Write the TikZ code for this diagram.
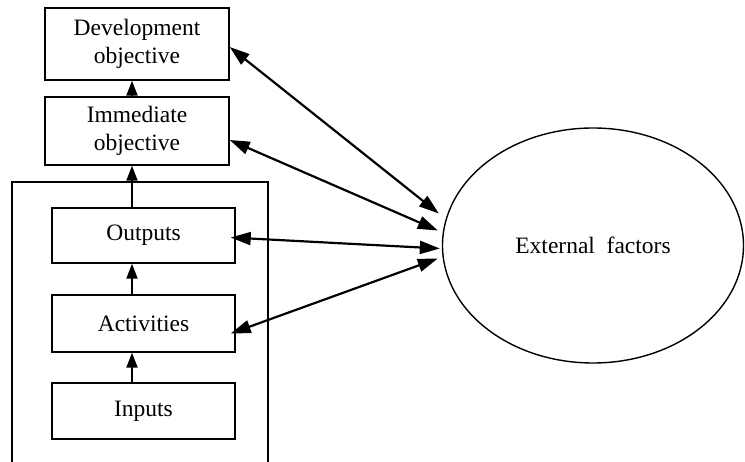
\documentclass[tikz,border=0pt]{standalone}
\usepackage{fontspec}
\setmainfont{Liberation Serif}
\usetikzlibrary{arrows.meta,shapes.geometric}

\begin{document}
\begin{tikzpicture}[x=1pt,y=-1pt,
		box/.style={draw,line width=1.4pt,minimum width=184pt,align=center,font=\fontsize{23.5}{28}\selectfont},
		arr/.style={line width=2pt,-{Triangle[length=15pt,width=11pt]}},
		both/.style={line width=2.2pt,{Triangle[length=20pt,width=13pt]}-{Triangle[length=20pt,width=13pt]}}]
		\useasboundingbox (0,0) rectangle (745,462);
		\node[box,minimum height=72pt] (dev) at (137,44) {Development\\objective};
		\node[box,minimum height=68pt] (imm) at (137,131) {Immediate\\objective};
		\draw[line width=1.4pt] (12,462) |- (268,182) -- (268,462);
		\node[box,minimum width=183pt,minimum height=55pt] (out) at (143.5,235.5) {Outputs};
		\node[box,minimum width=183pt,minimum height=57pt] (act) at (143.5,323.5) {Activities};
		\node[box,minimum width=183pt,minimum height=56pt] (inp) at (143.5,411) {Inputs};
		\node[draw,ellipse,line width=1.4pt,minimum width=301pt,minimum height=235pt,font=\fontsize{23.5}{28}\selectfont] (ext) at (593,245.5) {External\ \ factors};
		\coordinate (axis) at (132,0);
		\draw[arr] (imm.north -| axis) -- (dev.south -| axis);
		\draw[arr] (out.north -| axis) -- (imm.south -| axis);
		\draw[arr] (act.north -| axis) -- (out.south -| axis);
		\draw[arr] (inp.north -| axis) -- (act.south -| axis);
		\draw[both] ([yshift=-3]dev.east) -- ([xshift=-3,yshift=32]ext.west);
		\draw[both] ([yshift=-9]imm.east) -- ([xshift=-4,yshift=15]ext.west);
		\draw[both] ([xshift=-5,yshift=-2]out.east) -- ([xshift=-2,yshift=-3]ext.west);
		\draw[both] ([xshift=-5,yshift=-10]act.east) -- ([xshift=-4,yshift=-13]ext.west);
	\end{tikzpicture}
\end{document}
